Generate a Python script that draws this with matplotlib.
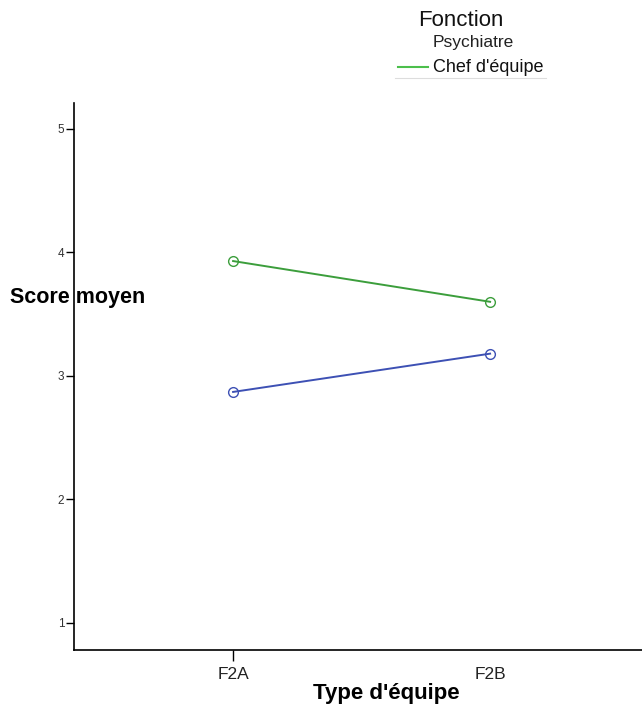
import matplotlib.pyplot as plt
from matplotlib.lines import Line2D

plt.rcParams['font.family'] = ['Liberation Sans', 'DejaVu Sans']

# data
teams = ["F2A", "F2B"]
series_names = ["Psychiatre", "Chef d'équipe"]
psychiatre = [2.87, 3.18]
chef_equipe = [3.93, 3.60]
y_ticks = [1, 2, 3, 4, 5]

blue = "#3d50b4"
green = "#3c9e3c"

fig = plt.figure(figsize=(6.42, 7.09), dpi=100)
ax = fig.add_axes([74 / 642, 1 - 650 / 709, 1 - 74 / 642, (650 - 103) / 709])

x = list(range(len(teams)))
ax.plot(x, psychiatre, color=blue, lw=1.4, marker="o", ms=7,
        mfc="none", mec=blue, mew=1.0)
ax.plot(x, chef_equipe, color=green, lw=1.4, marker="o", ms=7,
        mfc="none", mec=green, mew=1.0)

ax.set_xlim(-0.619, 1.591)
ax.set_ylim(0.78, 5.21)
ax.set_xticks(x)
ax.set_xticklabels(teams, fontsize=12.5, color="#222222")
ax.set_yticks(y_ticks)
ax.set_yticklabels([str(v) for v in y_ticks], fontsize=8.5, color="#333333")
ax.tick_params(axis="y", length=6, width=1, pad=1)
ax.tick_params(axis="x", length=8, width=1, pad=4)
ax.xaxis.get_major_ticks()[1].tick1line.set_visible(False)

for side in ["top", "right"]:
    ax.spines[side].set_visible(False)
for side in ["left", "bottom"]:
    ax.spines[side].set_linewidth(1.2)

ax.set_xlabel("Type d'équipe", fontsize=16, fontweight="bold")
ax.xaxis.set_label_coords((386 - 74) / (642 - 74), -(693 - 650) / (650 - 103))
ax.xaxis.label.set_va("center")
fig.text(10 / 642, 1 - 298 / 709, "Score moyen", fontsize=15.5,
         fontweight="bold", va="center", ha="left")

# legend drawn by hand
fig.text(418 / 642, 1 - 20 / 709, "Fonction", fontsize=16, va="center",
         ha="left", color="#111111")
fig.text(433 / 642, 1 - 43 / 709, series_names[0], fontsize=12.5,
         va="center", ha="left", color="#222222")
fig.text(433 / 642, 1 - 67 / 709, series_names[1], fontsize=13,
         va="center", ha="left", color="#111111")
fig.add_artist(Line2D([398 / 642, 428 / 642], [1 - 67 / 709, 1 - 67 / 709],
                      color="#4cbf4c", lw=1.5))
fig.add_artist(Line2D([395 / 642, 546 / 642], [1 - 78 / 709, 1 - 78 / 709],
                      color="#dddddd", lw=0.8))

fig.savefig("out.png", dpi=100)
plt.close(fig)
